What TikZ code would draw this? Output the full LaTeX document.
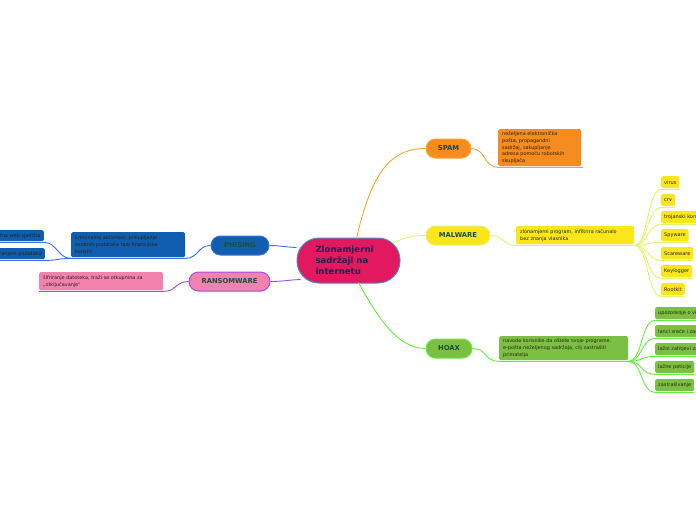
\documentclass[tikz,border=0pt]{standalone}
\usepackage{fontspec}
\setmainfont{DejaVu Sans}
\usetikzlibrary{positioning}

\definecolor{rootfill}{HTML}{E2195F}
\definecolor{rootline}{HTML}{4F86C6}
\definecolor{rootink}{HTML}{241E52}
\definecolor{topicink}{HTML}{1D4B44}
\definecolor{leafink}{HTML}{2B2410}
\definecolor{spamfill}{HTML}{F68B1F}
\definecolor{spamline}{HTML}{F7A62E}
\definecolor{malfill}{HTML}{FBE51B}
\definecolor{malline}{HTML}{E4F46A}
\definecolor{hoaxfill}{HTML}{7BC043}
\definecolor{hoaxline}{HTML}{62EE3C}
\definecolor{phfill}{HTML}{105EAF}
\definecolor{phline}{HTML}{3D70E6}
\definecolor{ranfill}{HTML}{F182AE}
\definecolor{ranline}{HTML}{A24CF0}

\begin{document}
\begin{tikzpicture}[x=1pt, y=-1pt,
    root/.style={draw=rootline, fill=rootfill, line width=1pt, rounded corners=22pt,
        minimum width=103pt, minimum height=45pt, text width=66pt, align=left,
        text=rootink, font=\fontsize{8.6}{11}\selectfont\bfseries},
    topic/.style={line width=1pt, rounded corners=9.5pt, minimum height=19pt,
        inner sep=0pt, text=topicink, font=\fontsize{6.8}{8}\selectfont\bfseries},
    detail/.style={anchor=north west, rounded corners=1.5pt, inner xsep=4pt, inner ysep=2pt,
        align=left, text=leafink, font=\fontsize{4.9}{6.8}\selectfont},
    leaf/.style={rounded corners=1.5pt, inner xsep=3pt, inner ysep=0pt, minimum height=12pt,
        text=leafink, font=\fontsize{5}{6}\selectfont},
    link/.style={line width=0.9pt}]
    \useasboundingbox (0,0) rectangle (696,520);

    % Central topic
    \node[root] (root) at (348.5,260.5) {Zlonamjerni sadržaji na internetu};

    % SPAM
    \node[topic, draw=spamline, fill=spamfill, minimum width=45pt] (spam) at (448.5,148.5) {SPAM};
    \node[detail, fill=spamfill, text width=75pt, minimum height=37pt] (spamtxt) at (498,129)
        {neželjena elektronička\\pošta, propagandni\\sadržaj, sakupljanje\\adresa pomoću robotskih\\skupljača};
    \draw[link, spamline] (root.north) ++(8,1) .. controls (372,170) and (392,148.5) .. (spam.west);
    \draw[link, spamline] (spam.east) .. controls +(14,0) and +(-14,0) .. ([yshift=-1pt]spamtxt.south west)
        -- ([xshift=2pt,yshift=-1pt]spamtxt.south east);

    % MALWARE
    \node[topic, draw=malline, fill=malfill, minimum width=64pt] (mal) at (458,235.5) {MALWARE};
    \node[detail, fill=malfill, text width=110pt, minimum height=18pt, inner ysep=1.5pt] (maltxt) at (516,226)
        {zlonamjerni program, infiltrira računalo\\bez znanja vlasnika};
    \draw[link, malline] (393,242.5) .. controls (405,238) and (412,235.5) .. (mal.west);
    \draw[link, malline] (mal.east) .. controls +(13,0) and +(-13,0) .. ([yshift=-1pt]maltxt.south west)
        -- ([yshift=-1pt]maltxt.south east);
    \foreach \nm/\txt/\yy in {virus/virus/176, crv/crv/194, trojan/trojanski konj/211,
        spyware/Spyware/229, scareware/Scareware/247, keylogger/Keylogger/265, rootkit/Rootkit/283} {
        \node[leaf, fill=malfill, anchor=north west] (\nm) at (661,\yy) {\txt};
        \draw[link, malline] ([yshift=-1pt]maltxt.south east) .. controls +(14,0) and +(-14,0)
            .. ([yshift=-1pt]\nm.south west) -- ([yshift=-1pt]\nm.south east);
    }

    % HOAX
    \node[topic, draw=hoaxline, fill=hoaxfill, minimum width=46pt] (hoax) at (449,348.5) {HOAX};
    \node[detail, fill=hoaxfill, text width=121pt, minimum height=24pt] (hoaxtxt) at (499,336)
        {navode korisnike da oštete svoje programe,\\e-pošta neželjenog sadržaja, cilj zastrašiti\\primatelja};
    \draw[link, hoaxline] (root.south) ++(10,-1) .. controls (378,318) and (398,348.5) .. (hoax.west);
    \draw[link, hoaxline] (hoax.east) .. controls +(14,0) and +(-14,0) .. ([yshift=-1pt]hoaxtxt.south west)
        -- ([yshift=-1pt]hoaxtxt.south east);
    \foreach \nm/\txt/\yy in {virwarn/upozorenje o virusima/307, chain/lanci sreće i zarade/325,
        fakereq/lažni zahtjevi za pomoć/343, petition/lažne peticije/361, scare/zastrašivanje/379} {
        \node[leaf, fill=hoaxfill, anchor=north west] (\nm) at (655,\yy) {\txt};
        \draw[link, hoaxline] ([yshift=-1pt]hoaxtxt.south east) .. controls +(14,0) and +(-14,0)
            .. ([yshift=-1pt]\nm.south west) -- ([yshift=-1pt]\nm.south east);
    }

    % PHISING
    \node[topic, draw=phline, fill=phfill, minimum width=58pt] (phish) at (240,245.5) {PHISING};
    \node[detail, fill=phfill, text width=106pt, minimum height=25pt] (phtxt) at (71,232)
        {kriminalna aktivnost, prikupljanje\\osobnih podataka radi financijske\\koristi)};
    \draw[link, phline] (root.west) ++(0,-13) .. controls (284,247) and (280,245.5) .. (phish.east);
    \draw[link, phline] (phish.west) .. controls +(-13,0) and +(13,0) .. ([yshift=-1pt]phtxt.south east)
        -- ([yshift=-1pt]phtxt.south west);
    \node[leaf, fill=phfill, anchor=north east, minimum height=11pt] (fakeweb) at (44,230) {lažna web sjedišta};
    \node[leaf, fill=phfill, anchor=north east, minimum height=11pt] (datareq) at (45,248) {e-pošta sa zahtjevom za ažuriranjem podataka};
    \foreach \nm in {fakeweb, datareq} {
        \draw[link, phline] ([yshift=-1pt]phtxt.south west) .. controls +(-13,0) and +(13,0)
            .. ([yshift=-1pt]\nm.south east) -- ([yshift=-1pt]\nm.south west);
    }

    % RANSOMWARE
    \node[topic, draw=ranline, fill=ranfill, minimum width=81pt] (ransom) at (229.5,281.5) {RANSOMWARE};
    \node[detail, fill=ranfill, text width=116pt, minimum height=18pt, inner ysep=1.5pt] (rantxt) at (39,272)
        {šifriranje datoteka, traži se otkupnina za\\„otključavanje“};
    \draw[link, ranline] (root.south west) ++(4,-4) .. controls (288,280) and (282,281.5) .. (ransom.east);
    \draw[link, ranline] (ransom.west) .. controls +(-13,0) and +(13,0) .. ([yshift=-1pt]rantxt.south east)
        -- ([yshift=-1pt]rantxt.south west);
\end{tikzpicture}
\end{document}
